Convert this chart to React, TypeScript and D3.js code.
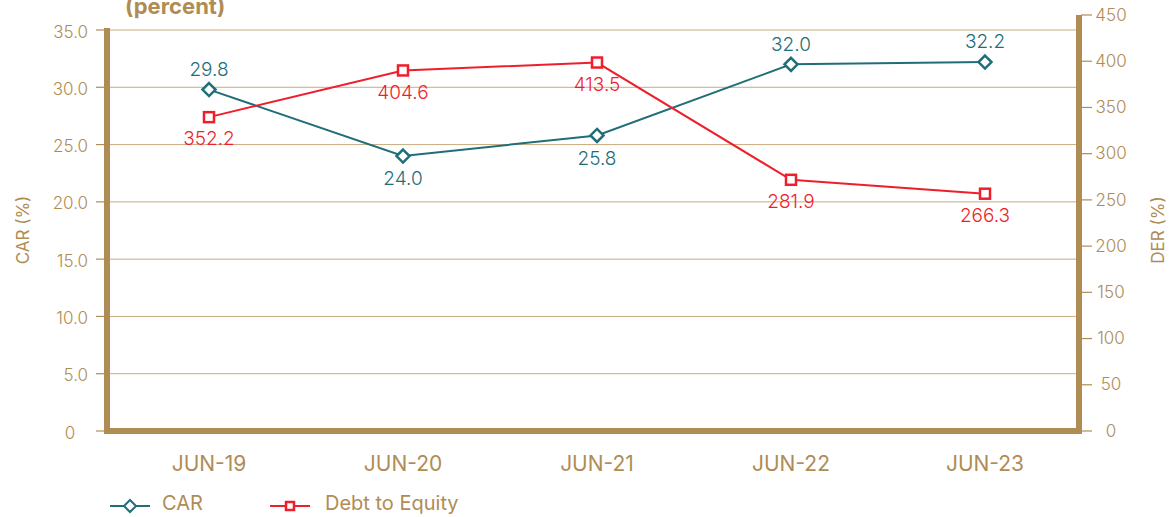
import React from "react";
import * as d3 from "d3";

const categories = ["JUN-19", "JUN-20", "JUN-21", "JUN-22", "JUN-23"];
const carValues = [29.8, 24.0, 25.8, 32.0, 32.2];
const carLabels = ["29.8", "24.0", "25.8", "32.0", "32.2"];
const derValues = [352.2, 404.6, 413.5, 281.9, 266.3];
const derLabels = ["352.2", "404.6", "413.5", "281.9", "266.3"];
const leftTicks = [0, 5, 10, 15, 20, 25, 30, 35];
const rightTicks = [0, 50, 100, 150, 200, 250, 300, 350, 400, 450];
const carLabelAbove = [true, false, false, true, true];

const W = 1170;
const H = 517;
const TAN = "#b08c55";
const GRID = "#c9ab7f";
const TEAL = "#1f6e78";
const RED = "#ee1f2b";
const FONT = "Inter, 'Open Sans', sans-serif";

export default function App() {
  const x = d3.scalePoint<string>().domain(categories).range([209, 985]);
  const yL = d3.scaleLinear().domain([0, 35]).range([431, 30]);
  const yR = d3.scaleLinear().domain([0, 450]).range([431, 30]);
  const yRAxis = d3.scaleLinear().domain([0, 450]).range([431, 15]);

  const carLine = d3
    .line<number>()
    .x((_, i) => x(categories[i])!)
    .y((d) => yL(d));
  const derLine = d3
    .line<number>()
    .x((_, i) => x(categories[i])!)
    .y((d) => yR(d));

  return (
    <svg width={W} height={H} style={{ position: "absolute", left: 0, top: 0, background: "#fff" }}>
      <text x={125} y={14} fontFamily={FONT} fontWeight={700} fontSize={22} fill={TAN}>
        (percent)
      </text>

      {/* gridlines */}
      {leftTicks.filter((t) => t > 0).map((t) => (
        <line key={"g" + t} x1={107} x2={1079} y1={yL(t)} y2={yL(t)} stroke={GRID} strokeWidth={1} />
      ))}

      {/* left ticks */}
      {leftTicks.map((t) => (
        <g key={"l" + t}>
          <line x1={96} x2={107} y1={yL(t)} y2={yL(t)} stroke={TAN} strokeWidth={1.2} />
          <text
            x={t === 0 ? 70 : 88}
            y={yL(t) + 3}
            textAnchor={t === 0 ? "middle" : "end"}
            dominantBaseline="middle"
            fontFamily={FONT}
            fontWeight={300}
            fontSize={17}
            fill={TAN}
          >
            {t === 0 ? "0" : t.toFixed(1)}
          </text>
        </g>
      ))}

      {/* right ticks */}
      {rightTicks.map((t) => (
        <g key={"r" + t}>
          <line x1={1081} x2={1092} y1={yRAxis(t)} y2={yRAxis(t)} stroke={TAN} strokeWidth={1.2} />
          <text
            x={1111}
            y={yRAxis(t) + 1}
            textAnchor="middle"
            dominantBaseline="middle"
            fontFamily={FONT}
            fontWeight={300}
            fontSize={17}
            fill={TAN}
          >
            {t}
          </text>
        </g>
      ))}

      {/* thick axis frame */}
      <line x1={107} x2={107} y1={28} y2={434} stroke={TAN} strokeWidth={6} />
      <line x1={1079} x2={1079} y1={15} y2={434} stroke={TAN} strokeWidth={6} />
      <line x1={104} x2={1082} y1={431} y2={431} stroke={TAN} strokeWidth={6} />

      {/* axis titles */}
      <text
        transform={`translate(24,230) rotate(-90)`}
        textAnchor="middle"
        dominantBaseline="middle"
        fontFamily={FONT}
        fontWeight={400}
        fontSize={17}
        fill={TAN}
      >
        CAR (%)
      </text>
      <text
        transform={`translate(1159,230) rotate(-90)`}
        textAnchor="middle"
        dominantBaseline="middle"
        fontFamily={FONT}
        fontWeight={400}
        fontSize={17}
        fill={TAN}
      >
        DER (%)
      </text>

      {/* x labels */}
      {categories.map((c) => (
        <text
          key={c}
          x={x(c)!}
          y={465}
          textAnchor="middle"
          dominantBaseline="middle"
          fontFamily={FONT}
          fontWeight={400}
          fontSize={21}
          fill={TAN}
        >
          {c}
        </text>
      ))}

      {/* lines */}
      <path d={carLine(carValues)!} fill="none" stroke={TEAL} strokeWidth={2} />
      <path d={derLine(derValues)!} fill="none" stroke={RED} strokeWidth={2} />

      {/* markers */}
      {carValues.map((v, i) => {
        const cx = x(categories[i])!;
        const cy = yL(v);
        const s = 6.5;
        return (
          <path
            key={"cm" + i}
            d={`M${cx},${cy - s}L${cx + s},${cy}L${cx},${cy + s}L${cx - s},${cy}Z`}
            fill="#fff"
            stroke={TEAL}
            strokeWidth={2.5}
          />
        );
      })}
      {derValues.map((v, i) => {
        const cx = x(categories[i])!;
        const cy = yR(v);
        return (
          <rect key={"dm" + i} x={cx - 5} y={cy - 5} width={10} height={10} fill="#fff" stroke={RED} strokeWidth={2.5} />
        );
      })}

      {/* data labels */}
      {carValues.map((v, i) => (
        <text
          key={"cl" + i}
          x={x(categories[i])!}
          y={carLabelAbove[i] ? yL(v) - 19 : yL(v) + 24}
          textAnchor="middle"
          dominantBaseline="middle"
          fontFamily={FONT}
          fontWeight={300}
          fontSize={19}
          fill={TEAL}
        >
          {carLabels[i]}
        </text>
      ))}
      {derValues.map((v, i) => (
        <text
          key={"dl" + i}
          x={x(categories[i])!}
          y={yR(v) + 23}
          textAnchor="middle"
          dominantBaseline="middle"
          fontFamily={FONT}
          fontWeight={300}
          fontSize={19}
          fill={RED}
        >
          {derLabels[i]}
        </text>
      ))}

      {/* legend */}
      <line x1={110} x2={150} y1={506} y2={506} stroke={TEAL} strokeWidth={2} />
      <path d="M130,500L136,506L130,512L124,506Z" fill="#fff" stroke={TEAL} strokeWidth={2} />
      <text x={162} y={505} dominantBaseline="middle" fontFamily={FONT} fontWeight={400} fontSize={20} fill={TAN}>
        CAR
      </text>
      <line x1={270} x2={310} y1={506} y2={506} stroke={RED} strokeWidth={2} />
      <rect x={286} y={502} width={8} height={8} fill="#fff" stroke={RED} strokeWidth={2.5} />
      <text x={325} y={505} dominantBaseline="middle" fontFamily={FONT} fontWeight={400} fontSize={20} fill={TAN}>
        Debt to Equity
      </text>
    </svg>
  );
}
